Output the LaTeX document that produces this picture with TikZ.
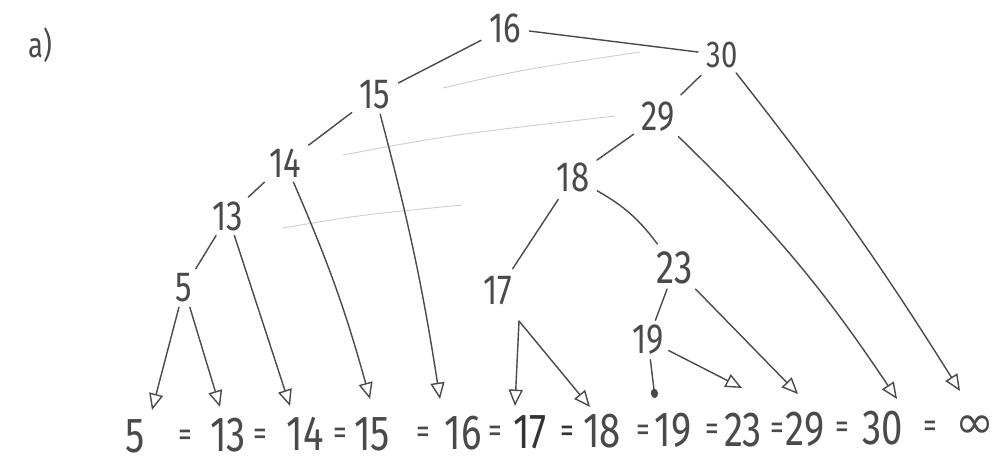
\documentclass[tikz,border=0pt]{standalone}
\usepackage{fontspec}
\setmainfont{Fira Sans}
\newfontfamily\hand[FakeStretch=0.78]{Fira Sans}
\newfontfamily\symfont{DejaVu Sans}
\usetikzlibrary{arrows.meta}
\definecolor{pencil}{HTML}{4A4A4A}
\definecolor{ghost}{HTML}{CFCFCF}
\begin{document}
\begin{tikzpicture}[x=0.03cm,y=-0.03cm,
  knode/.style={font=\hand\fontsize{36}{36}\selectfont, text=pencil, inner sep=4pt},
  leafnode/.style={font=\hand\fontsize{42}{42}\selectfont, text=pencil, inner sep=1pt},
  eqs/.style={font=\hand\fontsize{30}{30}\selectfont, text=pencil, inner sep=0pt},
  twig/.style={draw=pencil, line width=1.2pt, line cap=round},
  gap/.style={shorten >=3pt, shorten <=3pt},
  ptr/.style={twig, -{Triangle[open,length=14pt,width=12pt]}},
  blob/.style={twig, -{Circle[length=8pt,width=6pt]}},
  faint/.style={draw=ghost, line width=0.8pt, line cap=round}]
\useasboundingbox[fill=white] (0,0) rectangle (1002,473);

% label
\node[knode, font=\hand\fontsize{30}{30}\selectfont] (lab) at (40,45) {a)};

% faint erased strokes
\draw[faint] (443,88) .. controls (520,70) .. (640,52);
\draw[faint] (343,155) .. controls (450,135) .. (615,116);
\draw[faint] (283,228) .. controls (360,215) .. (462,205);

% tree keys
\node[knode] (n16) at (505,28) {16};
\node[knode, font=\hand\fontsize{32}{32}\selectfont] (n30) at (722,55) {30};
\node[knode] (n15) at (375,95) {15};
\node[knode] (n29) at (658,117) {29};
\node[knode] (n14) at (285,163) {14};
\node[knode] (n18) at (573,177) {18};
\node[knode] (n13) at (228,216) {13};
\node[knode, font=\hand\fontsize{40}{40}\selectfont] (n23) at (675,268) {23};
\node[knode] (n5) at (184,288) {5};
\node[knode] (n17) at (498,291) {17};
\node[knode] (n19) at (648,340) {19};

% leaf chain
\node[leafnode] (l5)   at (135,436) {5};
\node[eqs]      (e1)   at (185,438) {=};
\node[leafnode] (l13)  at (228,435) {13};
\node[eqs]      (e2)   at (260,437) {=};
\node[leafnode] (l14)  at (305,434) {14};
\node[eqs]      (e3)   at (340,436) {=};
\node[leafnode] (l15)  at (372,434) {15};
\node[eqs]      (e4)   at (423,435) {=};
\node[leafnode] (l16)  at (463,433) {16};
\node[eqs]      (e5)   at (495,434) {=};
\node[leafnode, text=black!80] (l17) at (530,432) {17};
\node[eqs, text=black!80] (e6) at (567,434) {=};
\node[leafnode] (l18)  at (602,431) {18};
\node[eqs]      (e7)   at (643,433) {=};
\node[leafnode] (l19)  at (673,430) {19};
\node[eqs]      (e8)   at (712,432) {=};
\node[leafnode] (l23)  at (743,430) {23};
\node[eqs]      (e9)   at (777,431) {=};
\node[leafnode] (l29)  at (805,429) {29};
\node[eqs]      (e10)  at (842,430) {=};
\node[leafnode] (l30)  at (883,428) {30};
\node[eqs]      (e11)  at (930,429) {=};
\node[leafnode, font=\symfont\fontsize{40}{40}\selectfont] (linf) at (975,427) {∞};

% pointer tips (above the leaves)
\coordinate (t5)   at (152,410);
\coordinate (t13)  at (220,407);
\coordinate (t14)  at (290,406);
\coordinate (t15)  at (370,399);
\coordinate (t16)  at (440,399);
\coordinate (t17)  at (515,406);
\coordinate (t18)  at (590,407);
\coordinate (t19)  at (655,398);
\coordinate (t23)  at (742,388);
\coordinate (t29)  at (798,394);
\coordinate (t30)  at (897,399);
\coordinate (tinf) at (960,391);
\coordinate (j17)  at (519,321);

% tree edges
\draw[twig, gap] (n16) -- (n15);
\draw[twig, gap] (n16) -- (n30);
\draw[twig, gap] (n30) -- (n29);
\draw[twig, gap] (n15) -- (n14);
\draw[twig] (n14) -- (n13);
\draw[twig] (n13) -- (n5);
\draw[twig, gap] (n29) -- (n18);
\draw[twig, gap] (n18) -- (n17);
\draw[twig, gap] (n18) to[bend left=12] (n23);
\draw[twig] (n23) -- (n19);

% pointers
\draw[ptr] (n5) -- (t5);
\draw[ptr] (n5) -- (t13);
\draw[ptr] (n13) -- (t14);
\draw[ptr] (n14) to[bend left=4] (t15);
\draw[ptr] (n15) to[bend left=3] (t16);
\draw[ptr] (j17) -- (t17);
\draw[ptr] (j17) -- (t18);
\draw[blob] (n19) -- (t19);
\draw[ptr] (n19) -- (t23);
\draw[ptr] (n23) -- (t29);
\draw[ptr] (n29) to[bend left=6] (t30);
\draw[ptr] (n30) to[bend left=3] (tinf);
\end{tikzpicture}
\end{document}
